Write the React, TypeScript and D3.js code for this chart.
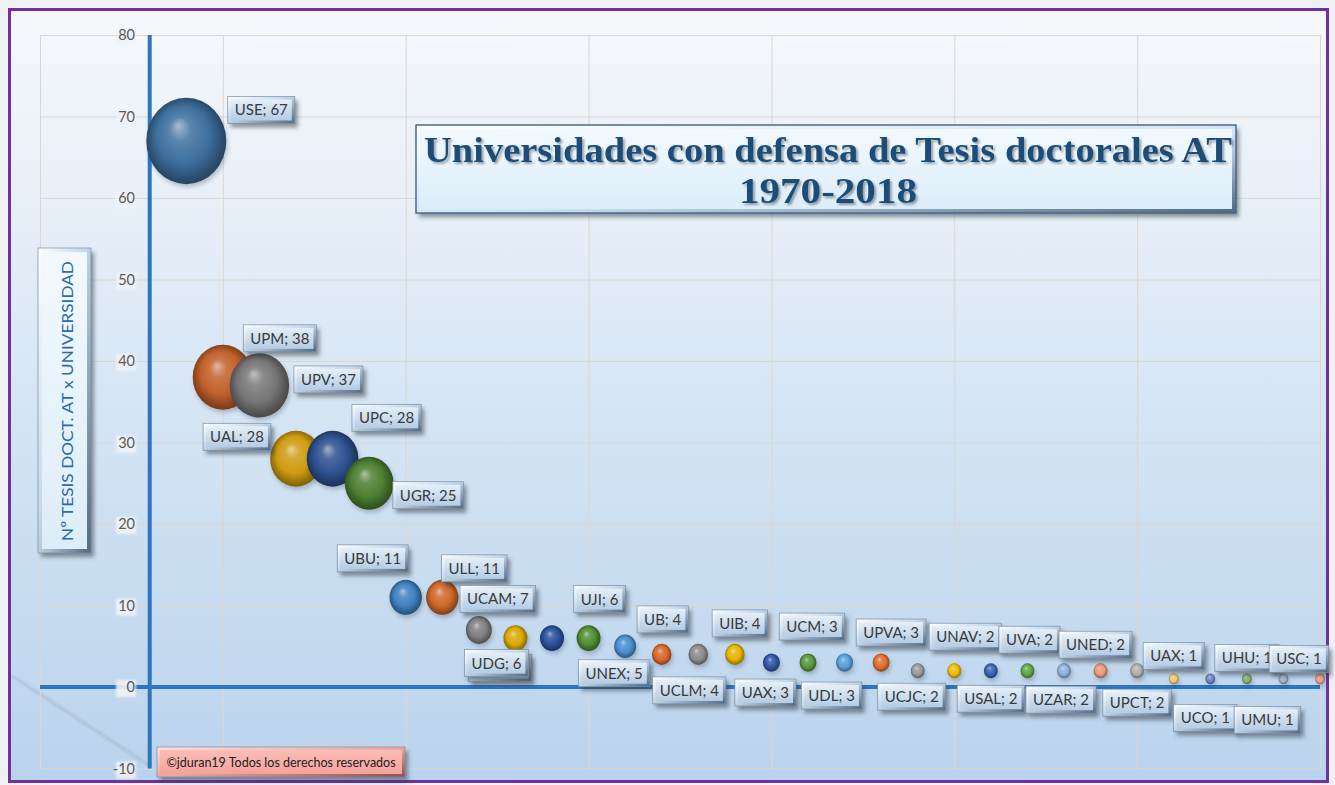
import React, { useEffect, useRef } from "react";
import * as d3 from "d3";

// ---------- DATA ----------
const universities = [
  "USE", "UPM", "UPV", "UAL", "UPC", "UGR", "UBU", "ULL", "UCAM", "UDG", "UDC",
  "UJI", "UNEX", "UB", "UCLM", "UIB", "UAX", "UCM", "UDL", "UPVA", "UCJC", "UNAV",
  "USAL", "UVA", "UZAR", "UNED", "UPCT", "UAX", "UCO", "UHU", "UMU", "USC",
];
const xPositions = [
  1, 2, 3, 4, 5, 6, 7, 8, 9, 10, 11, 12, 13, 14, 15, 16,
  17, 18, 19, 20, 21, 22, 23, 24, 25, 26, 27, 28, 29, 30, 31, 32,
];
const theses = [
  67, 38, 37, 28, 28, 25, 11, 11, 7, 6, 6, 6, 5, 4, 4, 4,
  3, 3, 3, 3, 2, 2, 2, 2, 2, 2, 2, 1, 1, 1, 1, 1,
];
// label of point 11 is hidden behind the UDG label in the reference
const labelVisible = universities.map((_, i) => i !== 10);
const pointColors = [
  "#3d6f9e", "#c2602a", "#767676", "#cf9b10", "#2d5190", "#4d7f31",
  "#3f80bf", "#cf6828", "#808080", "#dca800", "#2b509a", "#4f8e34",
  "#4a8fd0", "#d9692a", "#8c8c8c", "#e8b400", "#2f56a6", "#559a3a",
  "#59a0dc", "#e27030", "#9a9a9a", "#f2bc00", "#3a62b4", "#62a545",
  "#8db4e0", "#f09878", "#b0b0b0", "#f4c96a", "#7085c4", "#89b36f",
  "#a5b4cc", "#f0a488",
];
const yTicks = [80, 70, 60, 50, 40, 30, 20, 10, 0, -10];
const xGridValues = [-3, 2, 7, 12, 17, 22, 27, 32];
const titleLines = ["Universidades con defensa de Tesis doctorales AT", "1970-2018"];
const yAxisTitle = "Nº TESIS DOCT. AT x UNIVERSIDAD";
const copyright = "©jduran19 Todos los derechos reservados";

// ---------- LAYOUT (label offsets from bubble centre, px) ----------
const labelOffsets: [number, number][] = [
  [75, -31], [57, -39], [69, -6], [-59, -22], [54, -41], [59, 12],
  [-33, -39], [32, -29], [19, -31], [-19, 25], [-52, 30], [11, -39],
  [-11, 27], [1, -35], [-9, 36], [5, -31], [-6, 30], [4, -36],
  [-13, 33], [10, -30], [-6, 26], [11, -34], [0, 28], [2, -31],
  [-3, 29], [-5, -26], [0, 32], [0, -23], [-5, 39], [0, -21],
  [-16, 41], [-21, -20],
];

const W = 1335;
const H = 785;
const LABEL_FONT = "Lato, 'Open Sans', 'Noto Sans', sans-serif";

export default function App() {
  const ref = useRef<SVGSVGElement>(null);

  useEffect(() => {
    const svg = d3.select(ref.current);
    svg.selectAll("*").remove();
    const defs = svg.append("defs");

    const x = d3.scaleLinear().domain([-3, 32]).range([40, 1320]);
    const y = d3.scaleLinear().domain([-10, 80]).range([768.5, 35]);
    const rx = d3.scaleSqrt().domain([0, 67]).range([0, 40]);

    // gradients & filters
    const bg = defs.append("linearGradient").attr("id", "bg").attr("x1", 0).attr("y1", 0).attr("x2", 0).attr("y2", 1);
    bg.append("stop").attr("offset", 0).attr("stop-color", "#f6f8fb");
    bg.append("stop").attr("offset", 0.3).attr("stop-color", "#e4edf7");
    bg.append("stop").attr("offset", 0.62).attr("stop-color", "#cfe1f2");
    bg.append("stop").attr("offset", 1).attr("stop-color", "#bad3ec");

    const blur = (id: string, sd: number) =>
      defs.append("filter").attr("id", id).attr("x", "-50%").attr("y", "-50%").attr("width", "200%").attr("height", "200%")
        .append("feGaussianBlur").attr("stdDeviation", sd);
    blur("blur1", 1.2);
    blur("blur2", 2);
    blur("blur3", 3);

    defs.append("filter").attr("id", "tshadow").attr("x", "-10%").attr("y", "-30%").attr("width", "120%").attr("height", "160%")
      .append("feDropShadow").attr("dx", 2).attr("dy", 2).attr("stdDeviation", 1.2)
      .attr("flood-color", "#000").attr("flood-opacity", 0.35);

    const lin = (id: string, stops: [number, string][], x2 = 0, y2 = 1) => {
      const g = defs.append("linearGradient").attr("id", id).attr("x1", 0).attr("y1", 0).attr("x2", x2).attr("y2", y2);
      stops.forEach(([o, c]) => g.append("stop").attr("offset", o).attr("stop-color", c));
    };
    lin("bevOuter", [[0, "#ffffff"], [0.45, "#c6d8ea"], [1, "#4f6781"]], 1, 1);
    lin("bevFace", [[0, "#e4eff9"], [1, "#b4cce4"]]);
    lin("titleOuter", [[0, "#ffffff"], [0.55, "#cfe3f3"], [1, "#4f6883"]], 1, 1);
    lin("titleFace", [[0, "#f2f9fe"], [1, "#dcedf9"]]);
    lin("pinkOuter", [[0, "#ffe0dc"], [0.5, "#f3a59e"], [1, "#8a4e4a"]], 1, 1);
    lin("pinkFace", [[0, "#fbbdb7"], [1, "#f4a29b"]]);

    pointColors.forEach((c, i) => {
      const base = d3.color(c)!;
      const g = defs.append("radialGradient").attr("id", `sph${i}`)
        .attr("cx", "50%").attr("cy", "50%").attr("r", "55%").attr("fx", "40%").attr("fy", "32%");
      g.append("stop").attr("offset", 0).attr("stop-color", d3.interpolateRgb(c, "#ffffff")(0.55));
      g.append("stop").attr("offset", 0.25).attr("stop-color", d3.interpolateRgb(c, "#ffffff")(0.15));
      g.append("stop").attr("offset", 0.6).attr("stop-color", base.formatHex());
      g.append("stop").attr("offset", 0.85).attr("stop-color", base.darker(1.0).formatHex());
      g.append("stop").attr("offset", 1).attr("stop-color", base.darker(1.7).formatHex());
    });

    // page + chart frame
    svg.append("rect").attr("width", W).attr("height", H).attr("fill", "#eef0f3");
    svg.append("rect").attr("x", 9.5).attr("y", 9.5).attr("width", 1318).attr("height", 772)
      .attr("fill", "url(#bg)").attr("stroke", "#7030a0").attr("stroke-width", 3);

    // faint diagonal artifact
    svg.append("line").attr("x1", 12).attr("y1", 676).attr("x2", 150).attr("y2", 766)
      .attr("stroke", "#8f9aa6").attr("stroke-width", 3).attr("opacity", 0.3).attr("filter", "url(#blur1)");

    // gridlines
    const grid = svg.append("g").attr("stroke", "#dcd6d0").attr("stroke-width", 1);
    yTicks.forEach((t) => grid.append("line").attr("x1", x(-3)).attr("x2", x(32)).attr("y1", y(t) + 0.5).attr("y2", y(t) + 0.5));
    xGridValues.forEach((t) => grid.append("line").attr("x1", x(t) + 0.5).attr("x2", x(t) + 0.5).attr("y1", y(80)).attr("y2", y(-10)));

    // axes with glow
    const axes = svg.append("g");
    const axisLine = (x1: number, y1: number, x2: number, y2: number) => {
      axes.append("line").attr("x1", x1).attr("y1", y1).attr("x2", x2).attr("y2", y2)
        .attr("stroke", "#8fc0ee").attr("stroke-width", 10).attr("opacity", 0.75).attr("filter", "url(#blur2)");
      axes.append("line").attr("x1", x1).attr("y1", y1).attr("x2", x2).attr("y2", y2)
        .attr("stroke", "#2e75c0").attr("stroke-width", 4);
    };
    axisLine(x(0), y(80), x(0), y(-10));
    axisLine(x(-3), y(0), x(32), y(0));

    // tick labels
    const ticks = svg.append("g");
    yTicks.forEach((t) => {
      ticks.append("rect").attr("x", 116).attr("y", y(t) - 7).attr("width", 20).attr("height", 17)
        .attr("fill", "#eef3f8").attr("opacity", 0.9).attr("filter", "url(#blur1)");
      ticks.append("text").attr("x", 135).attr("y", y(t)).attr("dy", "0.35em").attr("text-anchor", "end")
        .attr("font-family", LABEL_FONT).attr("font-size", 14.5).attr("fill", "#595959").text(String(t));
    });

    // bubbles
    const bub = svg.append("g");
    d3.range(theses.length).forEach((i) => {
      const cx = x(xPositions[i]);
      const cy = y(theses[i]);
      const r = rx(theses[i]);
      bub.append("ellipse").attr("cx", cx + 1.5).attr("cy", cy + 3).attr("rx", r).attr("ry", r * 1.08)
        .attr("fill", "#1b2a3a").attr("opacity", 0.25).attr("filter", "url(#blur2)");
      bub.append("ellipse").attr("cx", cx).attr("cy", cy).attr("rx", r).attr("ry", r * 1.08)
        .attr("fill", `url(#sph${i})`);
    });

    // bevel box helper
    const bevelBox = (g: any, bx: number, by: number, w: number, h: number, outer: string, face: string, inset: number, shadow = true) => {
      if (shadow) {
        g.append("rect").attr("x", bx + 3).attr("y", by + 4).attr("width", w).attr("height", h)
          .attr("fill", "#2a3038").attr("opacity", 0.5).attr("filter", "url(#blur2)");
      }
      g.append("rect").attr("x", bx).attr("y", by).attr("width", w).attr("height", h)
        .attr("fill", `url(#${outer})`).attr("stroke", "#7a8fa5").attr("stroke-width", 0.7);
      g.append("rect").attr("x", bx + inset).attr("y", by + inset).attr("width", w - 2 * inset).attr("height", h - 2 * inset)
        .attr("fill", `url(#${face})`);
    };

    // data labels
    const labels = svg.append("g");
    const drawOrder = d3.range(theses.length).sort((a, b) => (a === 10 ? -1 : b === 10 ? 1 : a - b));
    drawOrder.forEach((i) => {
      const [dx, dy] = labelOffsets[i];
      const cx = x(xPositions[i]) + dx;
      const cy = y(theses[i]) + dy;
      const g = labels.append("g");
      const txt = `${universities[i]}; ${theses[i]}`;
      const tmp = g.append("text").attr("font-family", LABEL_FONT).attr("font-size", 15).text(txt);
      const tw = (tmp.node() as SVGTextElement).getComputedTextLength();
      tmp.remove();
      const w = tw + 14;
      const h = 27;
      bevelBox(g, cx - w / 2, cy - h / 2, w, h, "bevOuter", "bevFace", 3);
      if (labelVisible[i]) {
        g.append("text").attr("x", cx).attr("y", cy).attr("dy", "0.36em").attr("text-anchor", "middle")
          .attr("font-family", LABEL_FONT).attr("font-size", 15).attr("fill", "#3a3a3a").text(txt);
      }
    });

    // title
    const tg = svg.append("g");
    bevelBox(tg, 416, 125, 820, 88, "titleOuter", "titleFace", 4);
    tg.append("rect").attr("x", 416).attr("y", 125).attr("width", 820).attr("height", 88)
      .attr("fill", "none").attr("stroke", "#3d5f86").attr("stroke-width", 1.2);
    const titleY = [162, 203];
    const titleLen = [808, 178];
    const titleFont = "'Liberation Serif', 'DejaVu Serif', serif";
    titleLines.forEach((line, k) => {
      tg.append("text").attr("x", 828).attr("y", titleY[k]).attr("text-anchor", "middle")
        .attr("font-family", titleFont).attr("font-weight", "bold")
        .attr("font-size", 36).attr("fill", "#1f4e79").attr("filter", "url(#tshadow)")
        .attr("textLength", titleLen[k]).attr("lengthAdjust", "spacingAndGlyphs").text(line);
    });

    // y-axis title
    const yt = svg.append("g");
    bevelBox(yt, 38, 248, 53, 305, "bevOuter", "titleFace", 4);
    yt.append("text").attr("transform", `translate(67,401) rotate(-90)`).attr("text-anchor", "middle")
      .attr("dy", "0.36em").attr("font-family", LABEL_FONT).attr("font-size", 16)
      .attr("fill", "#2e6aa8").attr("textLength", 280).attr("lengthAdjust", "spacingAndGlyphs").text(yAxisTitle);

    // copyright
    const cp = svg.append("g");
    bevelBox(cp, 157, 747, 248, 30, "pinkOuter", "pinkFace", 3, true);
    cp.append("text").attr("x", 281).attr("y", 762).attr("dy", "0.36em").attr("text-anchor", "middle")
      .attr("font-family", LABEL_FONT).attr("font-size", 12.5).attr("fill", "#222").text(copyright);
  }, []);

  return (
    <svg
      ref={ref}
      width={W}
      height={H}
      style={{ position: "absolute", left: 0, top: 0, display: "block" }}
    />
  );
}
